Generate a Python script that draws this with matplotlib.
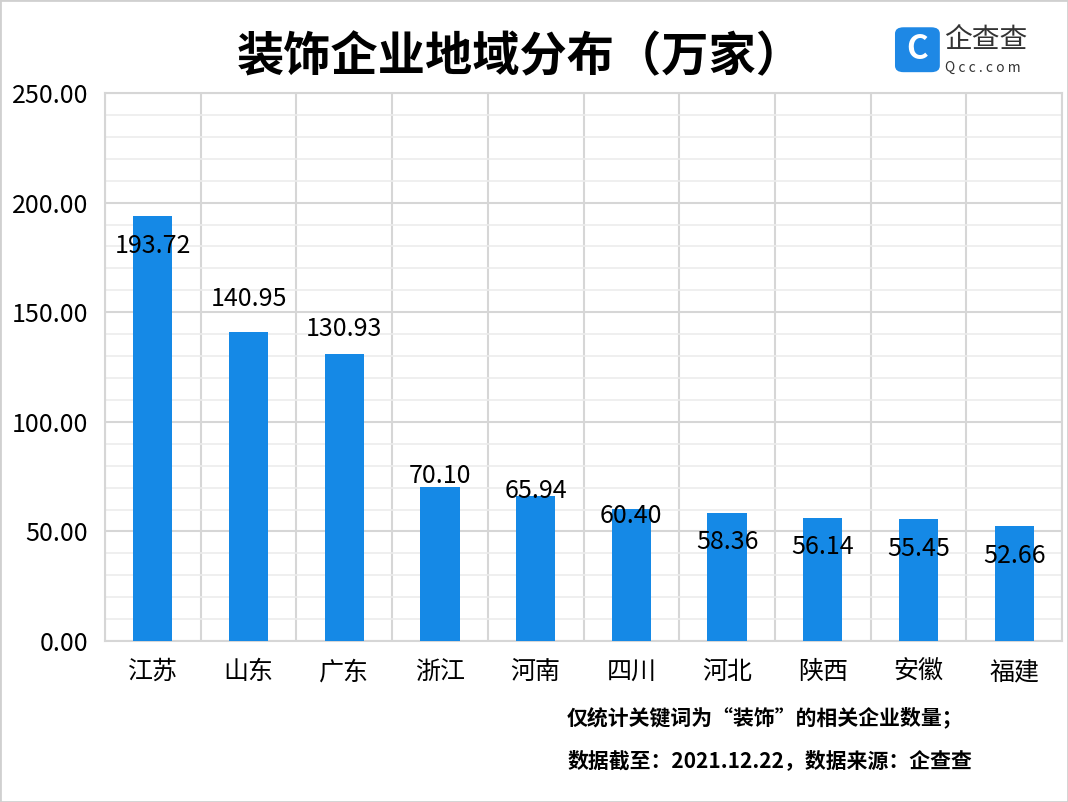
import numpy as np
import matplotlib.pyplot as plt
from matplotlib.patches import FancyBboxPatch, Rectangle

plt.rcParams['font.family'] = ['Noto Sans CJK SC', 'DejaVu Sans']

# data
regions = ["江苏", "山东", "广东", "浙江", "河南", "四川", "河北", "陕西", "安徽", "福建"]
counts = [193.72, 140.95, 130.93, 70.10, 65.94, 60.40, 58.36, 56.14, 55.45, 52.66]
# label offsets from bar top, in points (as placed in the original)
label_dy = [-21, 24, 18, 8, 4, -5, -21, -21, -21, -22]

fig = plt.figure(figsize=(10.68, 8.02), dpi=100)
fig.patches.append(Rectangle((0, 0), 1, 1, transform=fig.transFigure,
                             fill=False, edgecolor="#d0d0d0", lw=2))
ax = fig.add_axes([0.0983, 0.2007, 0.8961, 0.6833])

x = np.arange(len(regions))
ax.bar(x, counts, width=0.41, color="#1589E6", zorder=3)

for xi, v, dy in zip(x, counts, label_dy):
    ax.annotate(f"{v:.2f}", (xi, v), xytext=(0, dy), textcoords="offset points",
                ha="center", va="center", fontsize=18, color="black", zorder=4)

ax.set_xlim(-0.5, len(regions) - 0.5)
ax.set_ylim(0, 250)
ax.set_yticks(np.arange(0, 251, 50))
ax.set_yticklabels([f"{t:.2f}" for t in np.arange(0, 251, 50)], fontsize=18)
ax.set_yticks(np.arange(0, 251, 10), minor=True)
ax.set_xticks(x)
ax.set_xticklabels(regions, fontsize=18)
ax.set_xticks(np.arange(-0.5, len(regions)), minor=True)

ax.grid(which="major", axis="y", color="#d6d6d6", lw=1.5, zorder=0)
ax.grid(which="minor", axis="y", color="#ececec", lw=1.2, zorder=0)
ax.grid(which="minor", axis="x", color="#d6d6d6", lw=1.5, zorder=0)
ax.tick_params(axis="both", which="both", length=0)
ax.tick_params(axis="x", pad=13)
ax.tick_params(axis="y", pad=12)
for s in ax.spines.values():
    s.set_color("#d6d6d6")
    s.set_linewidth(1.5)

fig.text(0.487, 0.929, "装饰企业地域分布（万家）", ha="center", va="center",
         fontsize=34, fontweight="bold")

# logo
fig.patches.append(FancyBboxPatch((0.838, 0.910), 0.042, 0.056, transform=fig.transFigure,
                                  boxstyle="round,pad=0,rounding_size=0.008",
                                  facecolor="#1E88E5", edgecolor="none"))
fig.text(0.859, 0.938, "C", ha="center", va="center", fontsize=24,
         fontweight="bold", color="white")
fig.text(0.884, 0.950, "企查查", ha="left", va="center", fontsize=20, color="#333333")
fig.text(0.885, 0.916, "Q c c . c o m", ha="left", va="center", fontsize=10,
         color="#333333")

fig.text(0.531, 0.105, "仅统计关键词为“装饰”的相关企业数量；", ha="left", va="center",
         fontsize=15, fontweight="bold")
fig.text(0.531, 0.052, "数据截至：2021.12.22，数据来源：企查查", ha="left", va="center",
         fontsize=15, fontweight="bold")

fig.savefig("out.png", dpi=100, facecolor="white")
